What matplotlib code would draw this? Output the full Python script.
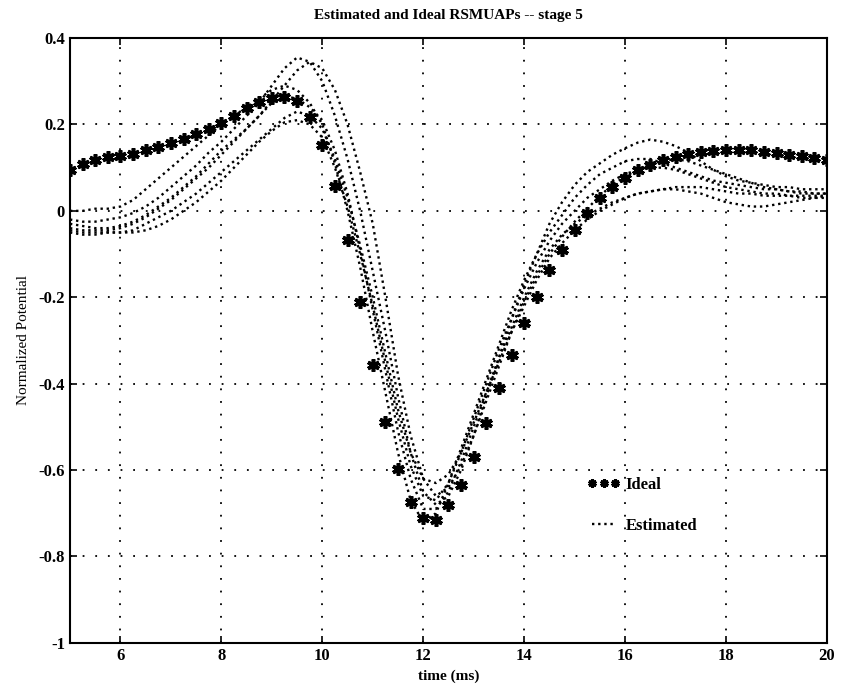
import numpy as np
import matplotlib
matplotlib.use("Agg")
import matplotlib.pyplot as plt
from matplotlib.ticker import FuncFormatter

# time axis (ms), sampled every 0.25 ms
t = np.arange(5.0, 20.0001, 0.25)

ideal = [0.095, 0.108, 0.118, 0.124, 0.127, 0.132, 0.140, 0.148, 0.157, 0.166,
         0.178, 0.190, 0.203, 0.220, 0.238, 0.253, 0.262, 0.263, 0.254, 0.217,
         0.152, 0.057, -0.068, -0.212, -0.357, -0.489, -0.598, -0.674, -0.710, -0.716,
         -0.680, -0.635, -0.570, -0.490, -0.410, -0.334, -0.260, -0.200, -0.137, -0.090,
         -0.044, -0.005, 0.030, 0.056, 0.076, 0.094, 0.106, 0.117, 0.125, 0.131,
         0.136, 0.139, 0.141, 0.141, 0.140, 0.137, 0.134, 0.130, 0.126, 0.122, 0.118]

est_a = [-0.020, -0.025, -0.025, -0.020, -0.015, -0.005, 0.010, 0.030, 0.055, 0.080,
         0.105, 0.135, 0.160, 0.190, 0.220, 0.250, 0.290, 0.330, 0.355, 0.345,
         0.300, 0.220, 0.120, 0.000, -0.140, -0.280, -0.430, -0.560, -0.650, -0.680,
         -0.660, -0.600, -0.520, -0.430, -0.340, -0.250, -0.170, -0.100, -0.030, 0.020,
         0.060, 0.090, 0.110, 0.130, 0.145, 0.158, 0.165, 0.160, 0.150, 0.135,
         0.115, 0.095, 0.080, 0.070, 0.065, 0.060, 0.055, 0.055, 0.050, 0.050, 0.050]

est_b = [-0.030, -0.035, -0.040, -0.040, -0.035, -0.025, -0.010, 0.010, 0.030, 0.055,
         0.080, 0.110, 0.140, 0.165, 0.190, 0.220, 0.255, 0.290, 0.325, 0.345,
         0.330, 0.280, 0.200, 0.090, -0.030, -0.200, -0.380, -0.520, -0.620, -0.660,
         -0.640, -0.590, -0.520, -0.440, -0.360, -0.280, -0.210, -0.150, -0.100, -0.060,
         -0.025, 0.005, 0.035, 0.060, 0.080, 0.095, 0.110, 0.115, 0.120, 0.115,
         0.105, 0.095, 0.085, 0.075, 0.065, 0.055, 0.050, 0.045, 0.040, 0.040, 0.040]

est_c = [0.000, 0.000, 0.005, 0.005, 0.010, 0.025, 0.050, 0.075, 0.100, 0.125,
         0.150, 0.175, 0.200, 0.220, 0.240, 0.260, 0.280, 0.290, 0.280, 0.250,
         0.200, 0.110, 0.000, -0.130, -0.280, -0.420, -0.560, -0.670, -0.720, -0.700,
         -0.630, -0.550, -0.470, -0.390, -0.310, -0.230, -0.160, -0.100, -0.050, -0.010,
         0.030, 0.060, 0.085, 0.100, 0.115, 0.120, 0.120, 0.110, 0.100, 0.090,
         0.080, 0.070, 0.065, 0.060, 0.055, 0.050, 0.050, 0.045, 0.045, 0.040, 0.040]

est_d = [-0.040, -0.045, -0.045, -0.045, -0.040, -0.030, -0.015, 0.005, 0.025, 0.050,
         0.075, 0.100, 0.130, 0.160, 0.190, 0.220, 0.250, 0.265, 0.260, 0.240,
         0.210, 0.140, 0.040, -0.090, -0.230, -0.370, -0.510, -0.620, -0.690, -0.690,
         -0.650, -0.580, -0.500, -0.420, -0.340, -0.270, -0.200, -0.140, -0.090, -0.055,
         -0.030, -0.010, 0.005, 0.020, 0.030, 0.040, 0.045, 0.050, 0.050, 0.045,
         0.040, 0.030, 0.020, 0.015, 0.010, 0.010, 0.015, 0.020, 0.025, 0.030, 0.035]

est_e = [-0.050, -0.055, -0.055, -0.050, -0.050, -0.045, -0.030, -0.015, 0.000, 0.020,
         0.040, 0.065, 0.090, 0.115, 0.140, 0.165, 0.190, 0.215, 0.230, 0.220,
         0.190, 0.120, 0.030, -0.080, -0.200, -0.330, -0.460, -0.560, -0.620, -0.630,
         -0.610, -0.560, -0.490, -0.420, -0.350, -0.280, -0.220, -0.160, -0.110, -0.075,
         -0.045, -0.020, 0.000, 0.015, 0.030, 0.040, 0.045, 0.050, 0.055, 0.055,
         0.055, 0.050, 0.045, 0.040, 0.040, 0.035, 0.035, 0.035, 0.030, 0.030, 0.030]

est_f = [-0.045, -0.050, -0.050, -0.050, -0.050, -0.050, -0.045, -0.035, -0.020, 0.000,
         0.020, 0.045, 0.070, 0.100, 0.130, 0.160, 0.185, 0.205, 0.210, 0.200,
         0.170, 0.100, 0.010, -0.100, -0.220, -0.350, -0.480, -0.590, -0.660, -0.670,
         -0.630, -0.560, -0.480, -0.400, -0.320, -0.250, -0.180, -0.120, -0.070, -0.030,
         0.000, 0.030, 0.050, 0.070, 0.085, 0.095, 0.100, 0.100, 0.095, 0.085,
         0.075, 0.065, 0.055, 0.050, 0.045, 0.040, 0.040, 0.035, 0.035, 0.035, 0.035]

estimated = [est_a, est_b, est_c, est_d, est_e, est_f]

xticks = [6, 8, 10, 12, 14, 16, 18, 20]
yticks = [-1, -0.8, -0.6, -0.4, -0.2, 0, 0.2, 0.4]


def main():
    plt.rcParams['font.family'] = ['Liberation Serif', 'DejaVu Serif']
    fig = plt.figure(figsize=(8.43, 6.92), dpi=100)
    ax = fig.add_axes([0.083, 0.071, 0.898, 0.874])

    # estimated RSMUAPs as dotted lines
    for i, est in enumerate(estimated):
        ax.plot(t, est, linestyle=(0, (1, 1.6)), color='black', linewidth=1.7,
                label='Estimated' if i == 0 else None)
    # ideal RSMUAP as asterisks
    ax.plot(t, ideal, linestyle='none', marker=(6, 2, 0), markersize=9,
            markeredgewidth=2.6, color='black', label='Ideal')

    ax.set_xlim(5, 20)
    ax.set_ylim(-1, 0.4)
    ax.set_xticks(xticks)
    ax.set_yticks(yticks)
    ax.yaxis.set_major_formatter(FuncFormatter(lambda v, p: '%g' % round(v, 1)))
    ax.grid(True, linestyle=(0, (1, 6)), color='black', linewidth=1.3)
    ax.tick_params(direction='in', top=True, right=True, length=5, width=1.2,
                   labelsize=12)
    for lab in ax.get_xticklabels() + ax.get_yticklabels():
        lab.set_fontweight('bold')
    for sp in ax.spines.values():
        sp.set_linewidth(1.5)

    ax.set_title('Estimated and Ideal RSMUAPs -- stage 5', fontsize=11,
                 fontweight='bold', pad=14)
    ax.set_xlabel('time (ms)', fontsize=11, fontweight='bold', labelpad=4)
    ax.set_ylabel('Normalized Potential', fontsize=11, labelpad=6)

    handles, labels = ax.get_legend_handles_labels()
    order = [labels.index('Ideal'), labels.index('Estimated')]
    leg = ax.legend([handles[k] for k in order], [labels[k] for k in order],
                    loc='upper left', bbox_to_anchor=(0.683, 0.275), frameon=False,
                    numpoints=3, handlelength=2.0, handletextpad=0.3,
                    labelspacing=1.5, borderpad=0, borderaxespad=0,
                    prop={'weight': 'bold', 'size': 12})
    for h in leg.legend_handles:
        h.set_markersize(6)
        h.set_markeredgewidth(2.2)

    fig.savefig('out.png', dpi=100)


if __name__ == "__main__":
    main()
